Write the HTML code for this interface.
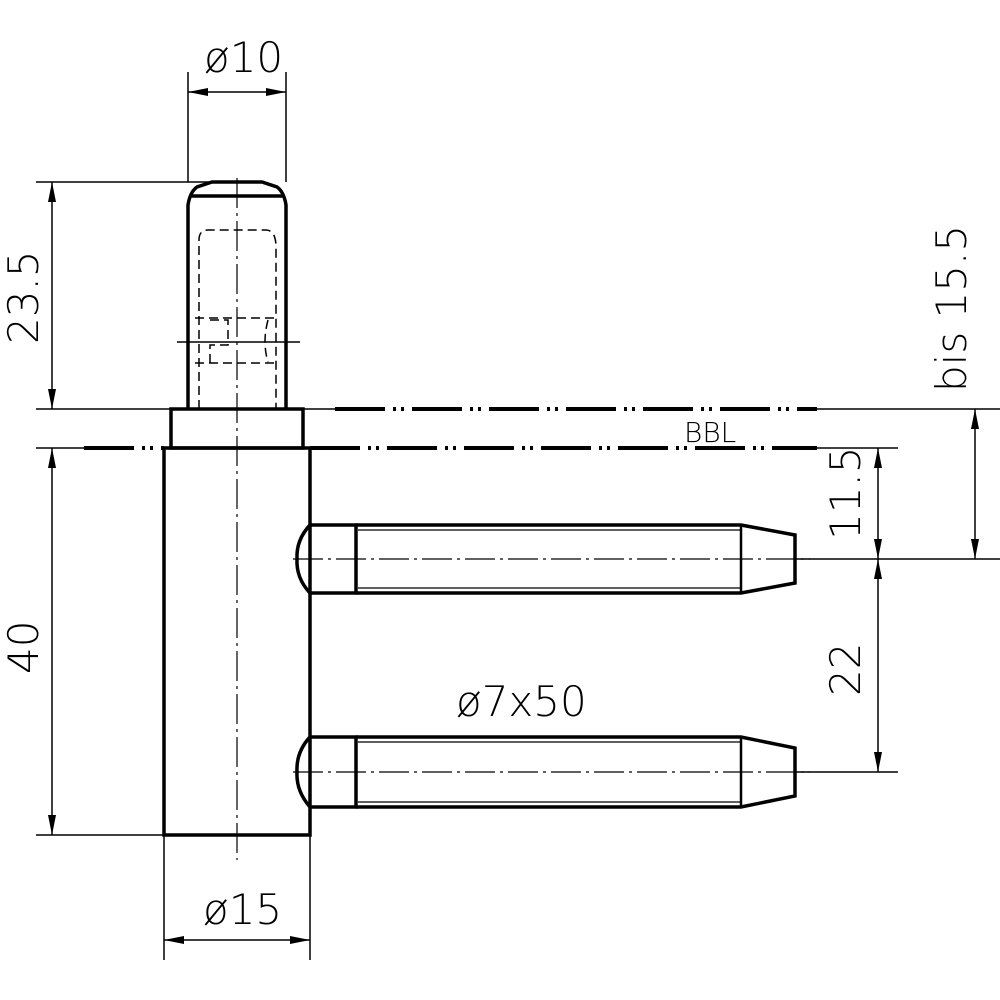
<!DOCTYPE html>
<html><head><style>html,body{margin:0;padding:0;background:#fff}svg{display:block}
text{font-family:"DejaVu Sans","Liberation Sans",sans-serif;font-weight:200;fill:#000}</style></head>
<body>
<svg width="1000" height="1000" viewBox="0 0 1000 1000" xmlns="http://www.w3.org/2000/svg">
<defs>
<marker id="a" viewBox="0 0 20 8" refX="20" refY="4" markerWidth="20" markerHeight="8" markerUnits="userSpaceOnUse" orient="auto-start-reverse"><path d="M0,0 L20,4 L0,8 z" fill="#000"/></marker>
</defs>
<g stroke="#000" fill="none">
<g stroke-width="1.5">
<line x1="188" y1="72" x2="188" y2="182"/>
<line x1="286" y1="72" x2="286" y2="182"/>
<line x1="36" y1="182" x2="215" y2="182"/>
<line x1="36" y1="409" x2="171" y2="409"/>
<line x1="36" y1="448" x2="84" y2="448"/>
<line x1="36" y1="835" x2="164" y2="835"/>
<line x1="164" y1="835" x2="164" y2="960"/>
<line x1="310" y1="835" x2="310" y2="960"/>
<line x1="817" y1="409" x2="1000" y2="409"/>
<line x1="817" y1="448" x2="898" y2="448"/>
<line x1="795" y1="559" x2="1000" y2="559"/>
<line x1="795" y1="772" x2="898" y2="772"/>
<line x1="303" y1="409" x2="335" y2="409"/>
<line x1="188" y1="92" x2="286" y2="92" marker-start="url(#a)" marker-end="url(#a)"/>
<line x1="52" y1="182" x2="52" y2="409" marker-start="url(#a)" marker-end="url(#a)"/>
<line x1="52" y1="448" x2="52" y2="835" marker-start="url(#a)" marker-end="url(#a)"/>
<line x1="164" y1="940" x2="310" y2="940" marker-start="url(#a)" marker-end="url(#a)"/>
<line x1="975" y1="409" x2="975" y2="559" marker-start="url(#a)" marker-end="url(#a)"/>
<line x1="878" y1="448" x2="878" y2="559" marker-start="url(#a)" marker-end="url(#a)"/>
<line x1="878" y1="559" x2="878" y2="772" marker-start="url(#a)" marker-end="url(#a)"/>
</g>
<g stroke-width="4" stroke-dasharray="50,8,3,5,3,8">
<line x1="335" y1="409" x2="817" y2="409"/>
<line x1="84" y1="448" x2="164" y2="448"/>
<line x1="310" y1="448" x2="817" y2="448"/>
</g>
<g stroke-width="1.2" stroke-dasharray="30,5,3,5">
<line x1="237" y1="178" x2="237" y2="860"/>
<line x1="293" y1="559" x2="810" y2="559"/>
<line x1="293" y1="772" x2="810" y2="772"/>
</g>
<g stroke-width="3.5">
<path d="M188,409 L188,205 Q190,192 197,187 L212,182 L262,182 L277,187 Q284,192 286,205 L286,409"/>
<line x1="190" y1="196" x2="284" y2="196"/>
<rect x="171" y="409" width="132" height="39"/>
<rect x="164" y="448" width="146" height="387"/>
<path d="M310,525 Q296,540 297,559 Q296,578 310,593 L356,593 L356,525 Z"/>
<path d="M356,525 L741,525 L795,535 L795,583 L741,593 L356,593"/>
<line x1="741" y1="525" x2="741" y2="593" stroke-width="2.5"/>
<path d="M310,737 Q296,752 297,772 Q296,791 310,807 L356,807 L356,737 Z"/>
<path d="M356,737 L741,737 L795,748 L795,796 L741,807 L356,807"/>
<line x1="741" y1="737" x2="741" y2="807" stroke-width="2.5"/>
</g>
<g stroke-width="1.2">
<line x1="358" y1="530" x2="741" y2="530"/>
<line x1="358" y1="588" x2="741" y2="588"/>
<line x1="358" y1="742" x2="741" y2="742"/>
<line x1="358" y1="802" x2="741" y2="802"/>
</g>
<g stroke-width="1.5" stroke-dasharray="9,5">
<path d="M199,409 L199,240 Q199,230 208,230 L266,230 Q275,230 276,245 L276,409"/>
<line x1="195" y1="318" x2="278" y2="318"/>
<line x1="195" y1="363" x2="278" y2="363"/>
<path d="M210,320 L228,320 L228,345 L210,345 L210,363"/>
<path d="M268,320 Q262,342 268,362"/>
</g>
<line x1="177" y1="342" x2="300" y2="342" stroke-width="1.5"/>
</g>
<g font-size="42">
<text x="204" y="72">ø10</text>
<text x="203" y="924">ø15</text>
<text x="456" y="716">ø7x50</text>
<text x="684" y="442" font-size="28">BBL</text>
<text transform="translate(38,344) rotate(-90)">23.5</text>
<text transform="translate(38,674) rotate(-90)">40</text>
<text transform="translate(860,540) rotate(-90)">11.5</text>
<text transform="translate(860,696) rotate(-90)">22</text>
<text transform="translate(966,392) rotate(-90)">bis  15.5</text>
</g>
</svg>
</body></html>
